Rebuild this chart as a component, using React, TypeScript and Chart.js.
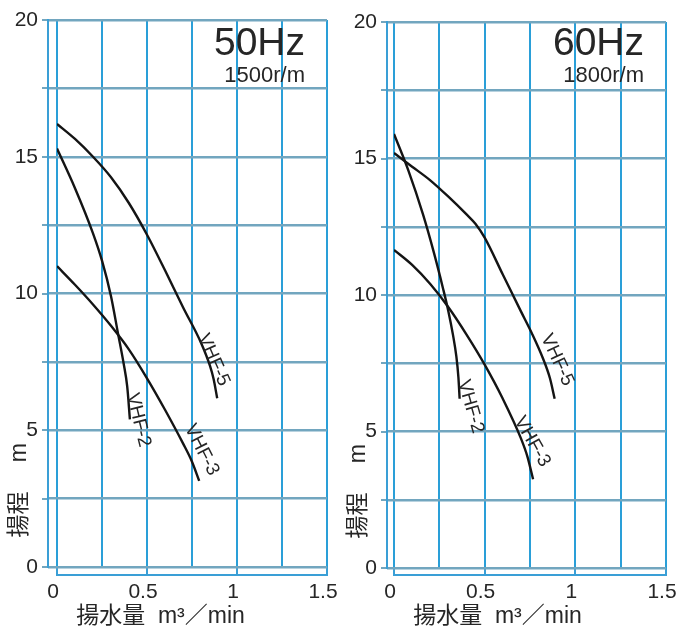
import React, { useEffect, useRef } from 'react';
import { Chart, registerables } from 'chart.js';

Chart.register(...registerables);

// ---------- data ----------
const SERIES_NAMES = ['VHF-5', 'VHF-2', 'VHF-3'];

const FLOW_MIN = 0;
const FLOW_MAX = 1.5;
const FLOW_GRID_STEP = 0.25;
const FLOW_LABEL_STEP = 0.5;

const HEAD_MIN = 0;
const HEAD_MAX = 20;
const HEAD_GRID_STEP = 2.5;
const HEAD_LABEL_STEP = 5;

// 50Hz (1500 r/m): [flow m3/min, head m]
const vhf5_50Hz = [[0, 16.2], [0.1, 15.65], [0.2, 15.0], [0.3, 14.25], [0.4, 13.3], [0.5, 12.15], [0.6, 10.85], [0.7, 9.5], [0.8, 8.2], [0.85, 7.35], [0.87, 6.87], [0.89, 6.17]];
const vhf2_50Hz = [[0, 15.3], [0.1, 13.85], [0.2, 12.2], [0.25, 11.2], [0.3, 9.9], [0.34, 8.5], [0.37, 7.45], [0.39, 6.6], [0.405, 5.4]];
const vhf3_50Hz = [[0, 11.0], [0.1, 10.32], [0.2, 9.6], [0.3, 8.82], [0.4, 7.95], [0.5, 6.9], [0.6, 5.75], [0.7, 4.52], [0.75, 3.85], [0.79, 3.15]];

// 60Hz (1800 r/m)
const vhf5_60Hz = [[0, 15.2], [0.1, 14.7], [0.2, 14.2], [0.3, 13.6], [0.4, 12.95], [0.45, 12.6], [0.5, 12.1], [0.6, 10.75], [0.7, 9.4], [0.76, 8.6], [0.82, 7.7], [0.86, 6.95], [0.886, 6.2]];
const vhf2_60Hz = [[0, 15.9], [0.08, 14.55], [0.16, 12.95], [0.22, 11.55], [0.27, 10.25], [0.3, 9.4], [0.325, 8.55], [0.344, 7.74], [0.355, 7.0], [0.362, 6.2]];
const vhf3_60Hz = [[0, 11.65], [0.1, 11.1], [0.2, 10.4], [0.3, 9.55], [0.4, 8.55], [0.5, 7.45], [0.6, 6.2], [0.7, 4.75], [0.735, 4.1], [0.767, 3.25]];

// curve name tags: [flow, head] of the tag centre, angle in degrees
const tags_50Hz = [{ name: 'VHF-5', x: 0.869, y: 7.57, angle: 66 }, { name: 'VHF-2', x: 0.452, y: 5.37, angle: 76 }, { name: 'VHF-3', x: 0.804, y: 4.28, angle: 63 }];
const tags_60Hz = [{ name: 'VHF-5', x: 0.9, y: 7.62, angle: 65 }, { name: 'VHF-2', x: 0.422, y: 5.91, angle: 74 }, { name: 'VHF-3', x: 0.762, y: 4.63, angle: 60.5 }];

const X_TITLE = '   揚水量  m³／min';
const Y_TITLE = '　 揚程　 m';

// ---------- styles ----------
const FONT = "'Liberation Sans', 'Noto Sans CJK JP', Arial, sans-serif";
const TEXT = '#262626';
const VGRID = '#2a9fd8';
const HGRID = '#72a6bf';
const AXIS = '#3a9fd6';
const CURVE = '#141414';

const isMultiple = (v: number, step: number) => Math.abs(v / step - Math.round(v / step)) < 1e-6;

type Tag = { name: string; x: number; y: number; angle: number };
type Area = { top: number; right: number; bottom: number; yGap: number; yAxisW: number; xGap: number; titlePad: number; canvasH: number };

function PumpChart(props: { curves: number[][][]; hz: string; rpm: string; tags: Tag[]; area: Area; left: number; width: number }) {
  const ref = useRef<HTMLCanvasElement>(null);
  const { curves, hz, rpm, tags, area, left, width } = props;

  useEffect(() => {
    const canvas = ref.current!;
    const textPlugin = {
      id: 'cornerTexts',
      afterDatasetsDraw(chart: any) {
        const { ctx, chartArea, scales } = chart;
        ctx.save();
        ctx.fillStyle = TEXT;
        ctx.textAlign = 'right';
        ctx.textBaseline = 'alphabetic';
        ctx.font = `39px ${FONT}`;
        ctx.fillText(hz, chartArea.right - 22, 55);
        ctx.font = `22px ${FONT}`;
        ctx.fillText(rpm, chartArea.right - 22, 82);
        ctx.font = `19px ${FONT}`;
        ctx.textAlign = 'center';
        ctx.textBaseline = 'middle';
        for (const t of tags) {
          const px = scales.x.getPixelForValue(t.x);
          const py = scales.y.getPixelForValue(t.y);
          ctx.save();
          ctx.translate(px, py);
          ctx.rotate((t.angle * Math.PI) / 180);
          ctx.fillText(t.name, 0, 0);
          ctx.restore();
        }
        ctx.restore();
      },
    };

    const tickFont = { family: FONT, size: 21 };
    const xAxisH = area.canvasH - area.bottom - area.xGap;

    const chart = new Chart(canvas, {
      type: 'line',
      data: {
        datasets: curves.map((pts, i) => ({
          label: SERIES_NAMES[i],
          data: pts.map(([x, y]) => ({ x, y })),
          borderColor: CURVE,
          borderWidth: 2.4,
          pointRadius: 0,
          fill: false,
          cubicInterpolationMode: 'monotone' as const,
          xAxisID: 'x',
          yAxisID: 'y',
        })),
      },
      options: {
        responsive: false,
        animation: false,
        layout: { padding: { top: area.top, right: area.right, left: 0, bottom: 0 } },
        plugins: { legend: { display: false }, tooltip: { enabled: false }, title: { display: false } },
        scales: {
          x: {
            type: 'linear',
            position: 'bottom',
            weight: 0,
            min: FLOW_MIN,
            max: FLOW_MAX,
            ticks: { display: false, stepSize: FLOW_GRID_STEP },
            grid: {
              color: VGRID,
              lineWidth: 2,
              drawTicks: true,
              tickLength: area.xGap,
              tickWidth: 2,
              tickColor: (c: any) => (c.tick && isMultiple(c.tick.value, FLOW_LABEL_STEP) ? AXIS : 'rgba(0,0,0,0)'),
            },
            border: { display: false },
            afterFit: (s: any) => { s.height = area.xGap; s.paddingLeft = 0; s.paddingRight = 0; },
          },
          x2: {
            type: 'linear',
            position: 'bottom',
            weight: 1,
            min: FLOW_MIN,
            max: FLOW_MAX,
            ticks: {
              stepSize: FLOW_LABEL_STEP,
              padding: 5,
              labelOffset: -4,
              font: tickFont,
              color: TEXT,
              callback: (v: any) => String(Number(v)),
            },
            grid: { drawOnChartArea: false, drawTicks: false },
            border: { display: true, color: AXIS, width: 2 },
            title: {
              display: true,
              text: X_TITLE,
              align: 'start',
              color: TEXT,
              font: { family: FONT, size: 23, lineHeight: 1 },
              padding: { top: 0, bottom: 0.5 },
            },
            afterFit: (s: any) => { s.height = xAxisH; s.paddingLeft = 0; s.paddingRight = 0; },
          },
          y: {
            type: 'linear',
            position: 'left',
            weight: 0,
            min: HEAD_MIN,
            max: HEAD_MAX,
            ticks: { display: false, stepSize: HEAD_GRID_STEP },
            grid: { color: HGRID, lineWidth: 2.5, drawTicks: true, tickLength: area.yGap },
            border: { display: false },
            afterFit: (s: any) => { s.width = area.yGap; },
          },
          y2: {
            type: 'linear',
            position: 'left',
            weight: 1,
            min: HEAD_MIN,
            max: HEAD_MAX,
            ticks: {
              stepSize: HEAD_GRID_STEP,
              padding: 4,
              font: tickFont,
              color: TEXT,
              callback: (v: any) => (isMultiple(Number(v), HEAD_LABEL_STEP) ? String(v) : ''),
            },
            grid: { drawOnChartArea: false, drawTicks: true, tickLength: 6, color: HGRID, lineWidth: 2 },
            border: { display: true, color: AXIS, width: 2 },
            title: {
              display: true,
              text: Y_TITLE,
              align: 'start',
              color: TEXT,
              font: { family: FONT, size: 23, lineHeight: 1 },
              padding: { top: area.titlePad, bottom: 0 },
            },
            afterFit: (s: any) => { s.width = area.yAxisW; },
          },
        },
      } as any,
      plugins: [textPlugin],
    });
    return () => chart.destroy();
  }, []);

  return (
    <canvas
      ref={ref}
      width={width}
      height={area.canvasH}
      style={{ position: 'absolute', left, top: 0, width, height: area.canvasH }}
    />
  );
}

const AREA_50: Area = { top: 20, right: 11, bottom: 567, yGap: 9, yAxisW: 48, xGap: 8, titlePad: 8.5, canvasH: 629 };
const AREA_60: Area = { top: 22, right: 11, bottom: 568, yGap: 7, yAxisW: 49, xGap: 7, titlePad: 9.5, canvasH: 629 };

export default function App() {
  return (
    <div style={{ position: 'absolute', left: 0, top: 0, width: 677, height: 629, background: '#ffffff', overflow: 'hidden' }}>
      <PumpChart curves={[vhf5_50Hz, vhf2_50Hz, vhf3_50Hz]} hz="50Hz" rpm="1500r/m" tags={tags_50Hz} area={AREA_50} left={0} width={338} />
      <PumpChart curves={[vhf5_60Hz, vhf2_60Hz, vhf3_60Hz]} hz="60Hz" rpm="1800r/m" tags={tags_60Hz} area={AREA_60} left={338} width={339} />
    </div>
  );
}
